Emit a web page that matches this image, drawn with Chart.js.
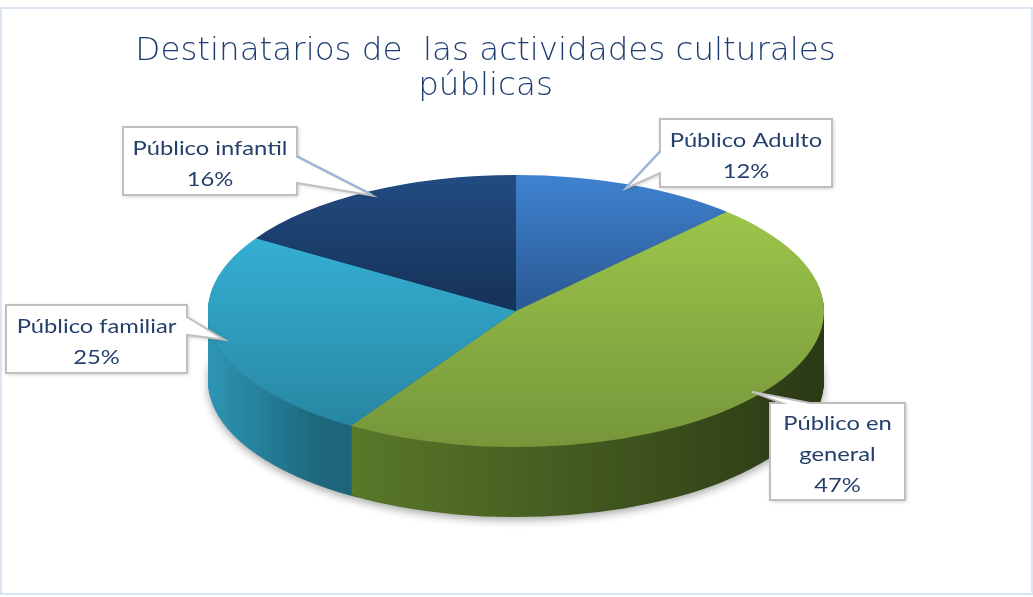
<!DOCTYPE html>
<html lang="es">
<head>
  <meta charset="UTF-8">
  <title>Destinatarios de las actividades culturales públicas</title>
  <script src="https://cdn.jsdelivr.net/npm/chart.js@4.4.1/dist/chart.umd.min.js"></script>
  <style>
    html, body { margin: 0; padding: 0; background: #fff; overflow: hidden; }
    .frame { position: absolute; left: 0; top: 7px; width: 1029px; height: 584px; border: 2px solid #dae5f2; }
    #chart { position: absolute; left: 0; top: 0; }
  </style>
</head>
<body>
  <div class="frame"></div>
  <canvas id="chart" width="1033" height="597"></canvas>
  <script>
    const categories = ['Público Adulto', 'Público en general', 'Público familiar', 'Público infantil'];
    const shares = [12, 47, 25, 16];
    const titleLines = ['Destinatarios de  las actividades culturales', 'públicas'];

    // top face gradient stops (top of pie -> bottom of pie)
    const topStops = [
      [[0, '#3f82d0'], [0.45, '#2c5c98']],
      [[0.1, '#9dc74b'], [1, '#76963a']],
      [[0.15, '#36b4d9'], [0.9, '#2888a4']],
      [[0, '#224c81'], [0.45, '#16335b']]
    ];
    // side wall gradient stops (left edge -> right edge)
    const sideStops = [
      [[0, '#2c5f9f'], [1, '#1c3f6c']],
      [[0, '#66892f'], [0.2, '#5b7b2a'], [1, '#2b3915']],
      [[0, '#2d95b4'], [0.18, '#1e677d'], [1, '#123d4a']],
      [[0, '#173a66'], [1, '#0f2745']]
    ];

    // where the flat pie gets projected to, to fake the 3-D tilt
    const pieView = { cx: 516, cy: 311, rx: 308, ry: 136, depth: 70 };

    // label boxes (same order as categories)
    const callouts = [
      { x: 660, y: 119, w: 172, h: 68, side: 'left', base: [33, 54], leader: true },
      { x: 770, y: 403, w: 135, h: 97, side: 'top', base: [12, 40] },
      { x: 6, y: 305, w: 181, h: 68, side: 'right', base: [12, 30] },
      { x: 123, y: 127, w: 174, h: 68, side: 'right', base: [30, 56], leader: true }
    ];
    const labelStretch = 1.25;

    function makeGradient(ctx, x0, y0, x1, y1, stops) {
      const g = ctx.createLinearGradient(x0, y0, x1, y1);
      stops.forEach(s => g.addColorStop(s[0], s[1]));
      return g;
    }

    function project(ctx, arc, dy) {
      ctx.translate(pieView.cx, pieView.cy + dy);
      ctx.scale(pieView.rx / arc.outerRadius, pieView.ry / arc.outerRadius);
      ctx.translate(-arc.x, -arc.y);
    }

    const pie3d = {
      id: 'pie3d',
      beforeDatasetsDraw(chart) {
        const ctx = chart.ctx;
        const arcs = chart.getDatasetMeta(0).data;
        const a0 = arcs[0];
        const sides = sideStops.map(s =>
          makeGradient(ctx, a0.x - a0.outerRadius, 0, a0.x + a0.outerRadius, 0, s));

        // side wall: stack of darker copies, deepest first
        for (let d = pieView.depth; d >= 1; d--) {
          ctx.save();
          if (d === pieView.depth) {
            ctx.shadowColor = 'rgba(0,0,0,0.35)';
            ctx.shadowBlur = 8;
            ctx.shadowOffsetY = 3;
          }
          project(ctx, a0, d);
          arcs.forEach((arc, i) => {
            const saved = arc.options;
            arc.options = Object.assign({}, saved, { backgroundColor: sides[i] });
            arc.draw(ctx);
            arc.options = saved;
          });
          ctx.restore();
        }
        // top face is drawn by chart.js under this transform
        ctx.save();
        project(ctx, a0, 0);
      },
      afterDatasetsDraw(chart) {
        chart.ctx.restore();
      }
    };

    function wrapWords(ctx, text, maxW) {
      const words = text.split(' ');
      const lines = [];
      let cur = '';
      words.forEach(w => {
        const test = cur ? cur + ' ' + w : w;
        if (cur && ctx.measureText(test).width * labelStretch > maxW) {
          lines.push(cur);
          cur = w;
        } else {
          cur = test;
        }
      });
      if (cur) lines.push(cur);
      return lines;
    }

    const calloutLabels = {
      id: 'calloutLabels',
      afterDraw(chart) {
        const ctx = chart.ctx;
        const arcs = chart.getDatasetMeta(0).data;
        ctx.save();
        ctx.font = '19px Lato';
        arcs.forEach((arc, i) => {
          const b = callouts[i];
          const mid = (arc.startAngle + arc.endAngle) / 2;
          const tip = {
            x: pieView.cx + pieView.rx * 0.97 * Math.cos(mid),
            y: pieView.cy + pieView.ry * 0.97 * Math.sin(mid)
          };
          const pts = [[b.x, b.y]];
          if (b.side === 'top') pts.push([b.x + b.base[0], b.y], [tip.x, tip.y], [b.x + b.base[1], b.y]);
          pts.push([b.x + b.w, b.y]);
          if (b.side === 'right') pts.push([b.x + b.w, b.y + b.base[0]], [tip.x, tip.y], [b.x + b.w, b.y + b.base[1]]);
          pts.push([b.x + b.w, b.y + b.h], [b.x, b.y + b.h]);
          if (b.side === 'left') pts.push([b.x, b.y + b.base[1]], [tip.x, tip.y], [b.x, b.y + b.base[0]]);

          ctx.beginPath();
          pts.forEach((p, k) => k ? ctx.lineTo(p[0], p[1]) : ctx.moveTo(p[0], p[1]));
          ctx.closePath();
          ctx.save();
          ctx.shadowColor = 'rgba(0,0,0,0.25)';
          ctx.shadowBlur = 4;
          ctx.shadowOffsetX = 1;
          ctx.shadowOffsetY = 1;
          ctx.fillStyle = '#ffffff';
          ctx.fill();
          ctx.restore();
          ctx.lineWidth = 2;
          ctx.strokeStyle = '#bfbfbf';
          ctx.lineJoin = 'miter';
          ctx.stroke();

          if (b.leader) {
            const sx = b.side === 'left' ? b.x : b.x + b.w;
            ctx.beginPath();
            ctx.moveTo(sx, b.y + b.base[0] - 1);
            ctx.lineTo(tip.x, tip.y - 1);
            ctx.lineWidth = 1.5;
            ctx.strokeStyle = '#8db3e2';
            ctx.stroke();
          }

          const lines = wrapWords(ctx, categories[i], b.w - 14);
          lines.push(shares[i] + '%');
          const lh = 31;
          const cy = b.y + b.h / 2 + 3;
          ctx.fillStyle = '#243f6b';
          ctx.textAlign = 'center';
          ctx.textBaseline = 'middle';
          lines.forEach((t, k) => {
            ctx.save();
            ctx.translate(b.x + b.w / 2, cy + (k - (lines.length - 1) / 2) * lh);
            ctx.scale(labelStretch, 1);
            ctx.fillText(t, 0, 0);
            ctx.restore();
          });
        });
        ctx.restore();
      }
    };

    new Chart(document.getElementById('chart'), {
      type: 'pie',
      data: {
        labels: categories,
        datasets: [{
          data: shares,
          borderWidth: 0,
          clip: false,
          backgroundColor(c) {
            const i = c.dataIndex === undefined ? 0 : c.dataIndex;
            const area = c.chart.chartArea;
            if (!area) return topStops[i][0][1];
            const cy = (area.top + area.bottom) / 2;
            const r = Math.min(area.width, area.height) / 2;
            return makeGradient(c.chart.ctx, 0, cy - r, 0, cy + r, topStops[i]);
          }
        }]
      },
      options: {
        responsive: false,
        animation: false,
        layout: { padding: { right: 62 } },
        events: [],
        plugins: {
          legend: { display: false },
          tooltip: { enabled: false },
          title: {
            display: true,
            text: titleLines,
            color: '#1c3d70',
            font: { family: 'DejaVu Sans', size: 32.5, weight: 300, lineHeight: 1.07 },
            padding: { top: 34, bottom: 0 }
          }
        }
      },
      plugins: [pie3d, calloutLabels]
    });
  </script>
</body>
</html>
